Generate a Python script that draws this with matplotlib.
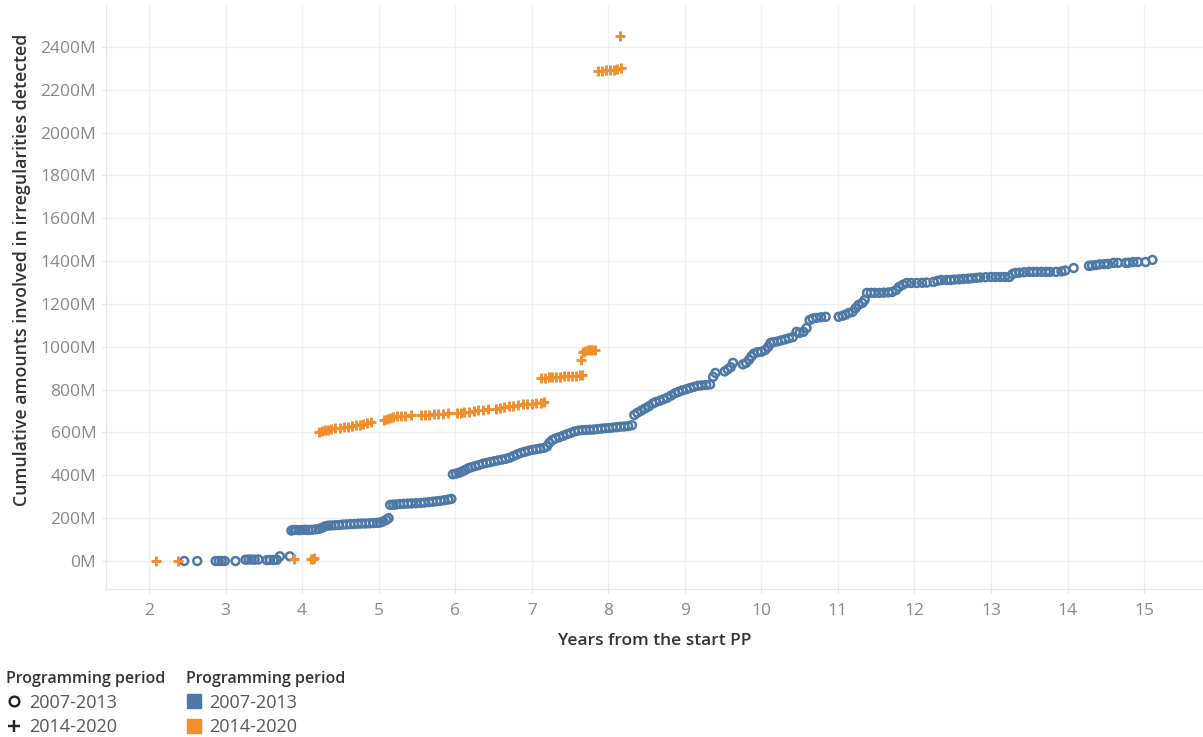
import matplotlib
matplotlib.use("Agg")
import matplotlib.pyplot as plt
from matplotlib.lines import Line2D
from matplotlib.ticker import MultipleLocator, FuncFormatter

BLUE = "#4e79a7"
ORANGE = "#f28e2b"

# 2007-2013 programming period (years from start, cumulative M EUR)
years_0713 = [
    2.46, 2.63, 2.87, 2.91, 2.95, 2.99, 3.13, 3.26, 3.30, 3.34, 3.38, 3.43, 3.54, 3.58, 3.63, 3.67, 3.71, 3.84,
    3.86, 3.89, 3.92, 3.96, 4.00, 4.04, 4.08, 4.13, 4.18, 4.22, 4.26, 4.30, 4.34, 4.38, 4.43, 4.48, 4.53, 4.58,
    4.63, 4.68, 4.73, 4.78, 4.83, 4.88, 4.93, 4.98, 5.02, 5.06, 5.10, 5.13,
    5.15, 5.19, 5.23, 5.28, 5.33, 5.38, 5.43, 5.49, 5.55, 5.60, 5.66, 5.71, 5.76, 5.81, 5.86, 5.91, 5.95,
    5.97, 6.01, 6.05, 6.09, 6.13, 6.17, 6.21, 6.26, 6.31, 6.36, 6.41, 6.46, 6.51, 6.56, 6.61, 6.66, 6.71, 6.76,
    6.81, 6.86, 6.91, 6.96, 7.01, 7.06, 7.11, 7.16, 7.20, 7.23, 7.27, 7.31, 7.36, 7.41, 7.46, 7.51, 7.56, 7.61,
    7.66, 7.71, 7.76, 7.81, 7.86, 7.91, 7.96, 8.01, 8.06, 8.11, 8.16, 8.21, 8.26, 8.31,
    8.34, 8.38, 8.43, 8.48, 8.53, 8.58, 8.62, 8.67, 8.72, 8.77, 8.82, 8.87, 8.92, 8.97, 9.02, 9.07, 9.12, 9.17,
    9.22, 9.28, 9.33, 9.37, 9.40, 9.52, 9.56, 9.60, 9.63, 9.76, 9.80, 9.84, 9.87, 9.90, 9.95, 10.00, 10.05,
    10.09, 10.12, 10.16, 10.21, 10.26, 10.31, 10.36, 10.41, 10.46, 10.50, 10.55, 10.59, 10.63, 10.67, 10.72,
    10.78, 10.84, 11.01, 11.06, 11.10, 11.14, 11.19, 11.23, 11.27, 11.32, 11.35, 11.38, 11.43, 11.48, 11.54,
    11.60, 11.66, 11.71, 11.76, 11.80, 11.85, 11.90, 11.96, 12.03, 12.10, 12.16, 12.25, 12.30, 12.35, 12.42,
    12.47, 12.52, 12.58, 12.64, 12.70, 12.75, 12.81, 12.86, 12.93, 13.00, 13.06, 13.12, 13.18, 13.24, 13.28,
    13.32, 13.37, 13.43, 13.50, 13.55, 13.60, 13.66, 13.72, 13.77, 13.85, 13.92, 13.97, 14.08, 14.28, 14.32,
    14.37, 14.42, 14.48, 14.53, 14.60, 14.66, 14.76, 14.80, 14.86, 14.92, 15.02, 15.11,
]
amount_0713 = [
    0, 0, 0, 0, 0, 0, 0, 6, 7, 7, 6, 7, 4, 5, 5, 6, 22, 22,
    142, 145, 145, 144, 145, 146, 145, 146, 148, 150, 155, 162, 165, 166, 167, 168, 170, 171,
    172, 173, 174, 175, 175, 176, 177, 178, 180, 185, 192, 200,
    262, 263, 264, 266, 267, 268, 269, 270, 271, 273, 275, 277, 279, 281, 284, 287, 290,
    405, 408, 412, 418, 425, 433, 438, 443, 448, 454, 458, 462, 466, 470, 473, 477, 482, 490,
    498, 505, 510, 515, 519, 522, 525, 528, 535, 552, 565, 572, 578, 585, 592, 598, 605, 609,
    611, 612, 613, 614, 616, 618, 620, 621, 623, 625, 627, 628, 630, 634,
    682, 692, 702, 712, 722, 735, 742, 748, 755, 762, 772, 783, 790, 797, 802, 808, 813, 818,
    820, 822, 824, 860, 878, 885, 895, 905, 925, 918, 925, 940, 955, 968, 975, 977, 985,
    1000, 1018, 1022, 1025, 1030, 1035, 1040, 1045, 1070, 1065, 1070, 1088, 1125, 1132, 1135,
    1138, 1140, 1140, 1145, 1150, 1158, 1163, 1180, 1196, 1205, 1219, 1252, 1252, 1252, 1252,
    1253, 1254, 1256, 1265, 1280, 1290, 1298, 1298, 1298, 1299, 1300, 1303, 1308, 1312, 1312,
    1312, 1314, 1315, 1317, 1318, 1320, 1322, 1324, 1325, 1326, 1326, 1326, 1326, 1326, 1340,
    1345, 1346, 1348, 1350, 1350, 1350, 1350, 1350, 1350, 1350, 1352, 1356, 1368, 1378, 1380,
    1382, 1385, 1386, 1387, 1392, 1392, 1392, 1393, 1396, 1396, 1396, 1406,
]

# 2014-2020 programming period
years_1420 = [
    2.09, 2.38, 3.90, 4.12, 4.14, 4.16,
    4.22, 4.26, 4.30, 4.34, 4.38, 4.43, 4.50, 4.55, 4.60, 4.65, 4.70, 4.75, 4.80, 4.85, 4.90,
    5.07, 5.11, 5.15, 5.19, 5.24, 5.29, 5.35, 5.42, 5.55, 5.60, 5.66, 5.72, 5.78, 5.84, 5.90,
    6.02, 6.07, 6.12, 6.18, 6.24, 6.30, 6.36, 6.43, 6.53, 6.58, 6.64, 6.70, 6.76, 6.82, 6.88,
    6.94, 7.00, 7.06, 7.12, 7.16,
    7.12, 7.17, 7.22, 7.27, 7.32, 7.37, 7.42, 7.47, 7.53, 7.58, 7.63, 7.66,
    7.65, 7.67, 7.70, 7.73, 7.76, 7.79, 7.83,
    7.87, 7.92, 7.97, 8.02, 8.07, 8.12, 8.16, 8.15,
]
amount_1420 = [
    0, 0, 8, 8, 10, 12,
    600, 605, 610, 614, 618, 620, 622, 625, 627, 630, 633, 636, 640, 645, 650,
    658, 664, 670, 673, 675, 677, 679, 680, 682, 683, 684, 685, 686, 688, 690,
    691, 693, 695, 698, 700, 703, 706, 708, 712, 714, 718, 722, 725, 728, 731,
    733, 735, 737, 739, 742,
    855, 856, 857, 858, 859, 860, 862, 863, 864, 866, 868, 868,
    940, 975, 980, 983, 985, 985, 986,
    2288, 2290, 2292, 2293, 2294, 2296, 2300, 2450,
]

plt.rcParams['font.family'] = ['Open Sans', 'DejaVu Sans']

fig = plt.figure(figsize=(12.03, 7.37), dpi=100)
ax = fig.add_axes([106 / 1203, 1 - 589 / 737, (1203 - 106) / 1203, (589 - 5) / 737])

ax.scatter(years_0713, amount_0713, s=32, marker='o', facecolors='none',
           edgecolors=BLUE, linewidths=1.8, zorder=3)
ax.scatter(years_1420, amount_1420, s=60, marker='+', color=ORANGE,
           linewidths=2.1, zorder=4)

ax.set_xlim(1.438, 15.77)
ax.set_ylim(-130.7, 2596)
ax.xaxis.set_major_locator(MultipleLocator(1))
ax.yaxis.set_major_locator(MultipleLocator(200))
ax.yaxis.set_major_formatter(FuncFormatter(lambda v, p: f"{int(v)}M"))

ax.grid(True, color='#f0f0f0', linewidth=1, zorder=0)
ax.axhline(0, color='#b8b8b8', linestyle=(0, (1, 2)), linewidth=0.9, zorder=1)
for s in ['top', 'right']:
    ax.spines[s].set_visible(False)
for s in ['left', 'bottom']:
    ax.spines[s].set_color('#e6e6e6')
ax.tick_params(axis='both', colors='#e0e0e0', length=3, labelcolor='#888888', labelsize=12.5)
ax.tick_params(axis='y', pad=4)
ax.tick_params(axis='x', pad=7)

ax.set_xlabel("Years from the start PP", fontsize=12.5, color='#333333', fontweight='semibold', labelpad=10)
ax.set_ylabel("Cumulative amounts involved in irregularities detected", fontsize=12.8,
              color='#333333', fontweight='semibold')
ax.yaxis.set_label_coords(-0.068, 0.546)

shape_handles = [
    Line2D([], [], linestyle='none', marker='o', markersize=7, markerfacecolor='none',
           markeredgecolor='#222222', markeredgewidth=1.7),
    Line2D([], [], linestyle='none', marker='+', markersize=9, color='#222222', markeredgewidth=1.7),
]
color_handles = [
    Line2D([], [], linestyle='none', marker='s', markersize=9.5, color=BLUE),
    Line2D([], [], linestyle='none', marker='s', markersize=9.5, color=ORANGE),
]
labels = ["2007-2013", "2014-2020"]

common = dict(loc='upper left', frameon=False, alignment='left', handlelength=0.9,
              handletextpad=0.4, borderpad=0, borderaxespad=0, labelspacing=0.36,
              fontsize=13, labelcolor='#555555',
              title="Programming period",
              title_fontproperties={'size': 11.5, 'weight': 'semibold'})
leg1 = fig.legend(shape_handles, labels, bbox_to_anchor=(6 / 1203, 1 - 671 / 737), **common)
leg2 = fig.legend(color_handles, labels, bbox_to_anchor=(186 / 1203, 1 - 671 / 737), **common)
for lg in (leg1, leg2):
    lg.get_title().set_color('#333333')

fig.savefig("out.png", dpi=100)
